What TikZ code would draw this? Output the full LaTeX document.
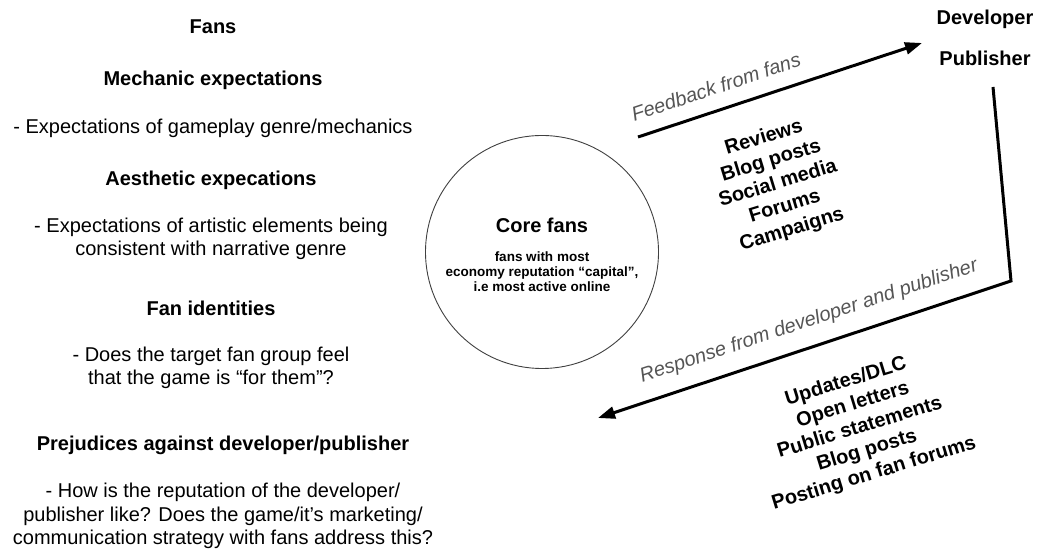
\documentclass[tikz,border=0pt]{standalone}
\usepackage{fontspec}
\setmainfont{Liberation Sans}
\usetikzlibrary{arrows.meta}
\definecolor{labelgray}{RGB}{85,85,85}

\begin{document}
\begin{tikzpicture}[x=1pt, y=1pt,
    head/.style={font=\bfseries\fontsize{20}{24}\selectfont},
    body/.style={align=center, font=\fontsize{20}{23.5}\selectfont},
    media/.style={align=center, font=\bfseries\fontsize{20}{24}\selectfont, rotate=17},
    flow/.style={line width=3pt, -{Triangle[length=17pt, width=12pt]}},
    flowlabel/.style={sloped, above=11pt, font=\itshape\fontsize{20}{24}\selectfont, text=labelgray}]
    \useasboundingbox (0,0) rectangle (1039,551);
    % fans column
    \node[head] (fans) at (213,524) {Fans};
    \node[head] (mechhead) at (213,471) {Mechanic expectations};
    \node[body] (mechtext) at (213,423) {- Expectations of gameplay genre/mechanics};
    \node[head] (aesthead) at (211,371) {Aesthetic expecations};
    \node[body] (aesttext) at (211,312) {- Expectations of artistic elements being\\consistent with narrative genre};
    \node[head] (idhead) at (211,243) {Fan identities};
    \node[body] (idtext) at (211,183) {- Does the target fan group feel\\that the game is “for them”?};
    \node[head] (prejhead) at (223,106) {Prejudices against developer/publisher};
    \node[body] (prejtext) at (223,35) {- How is the reputation of the developer/\\publisher like? Does the game/it’s marketing/\\communication strategy with fans address this?};
    % core fans circle
    \node[circle, draw=black!75, line width=0.9pt, minimum size=233pt, inner sep=0pt] (core) at (542,299) {};
    \node[head] (corehead) at (542,326) {Core fans};
    \node[align=center, font=\bfseries\fontsize{13.5}{15}\selectfont] (coretext) at (542,279) {fans with most\\economy reputation “capital”,\\i.e most active online};
    % developer side
    \node[head] (dev) at (985,532) {Developer};
    \node[head] (pub) at (985,493) {Publisher};
    \coordinate (fbstart) at (638,414);
    \coordinate (fbend) at (922,508);
    \coordinate (rstop) at (993,464);
    \coordinate (rscorner) at (1011,270);
    \coordinate (rsend) at (598,133);
    \draw[flow] (fbstart) -- node[flowlabel, pos=.3] {Feedback from fans} (fbend);
    \draw[flow, line join=miter] (rstop) -- (rscorner) -- node[flowlabel, pos=.47] {Response from developer and publisher} (rsend);
    \node[media] (fbmedia) at (778,367) {Reviews\\Blog posts\\Social media\\Forums\\Campaigns};
    \node[media] (rsmedia) at (860,123) {Updates/DLC\\Open letters\\Public statements\\Blog posts\\Posting on fan forums};
\end{tikzpicture}
\end{document}
